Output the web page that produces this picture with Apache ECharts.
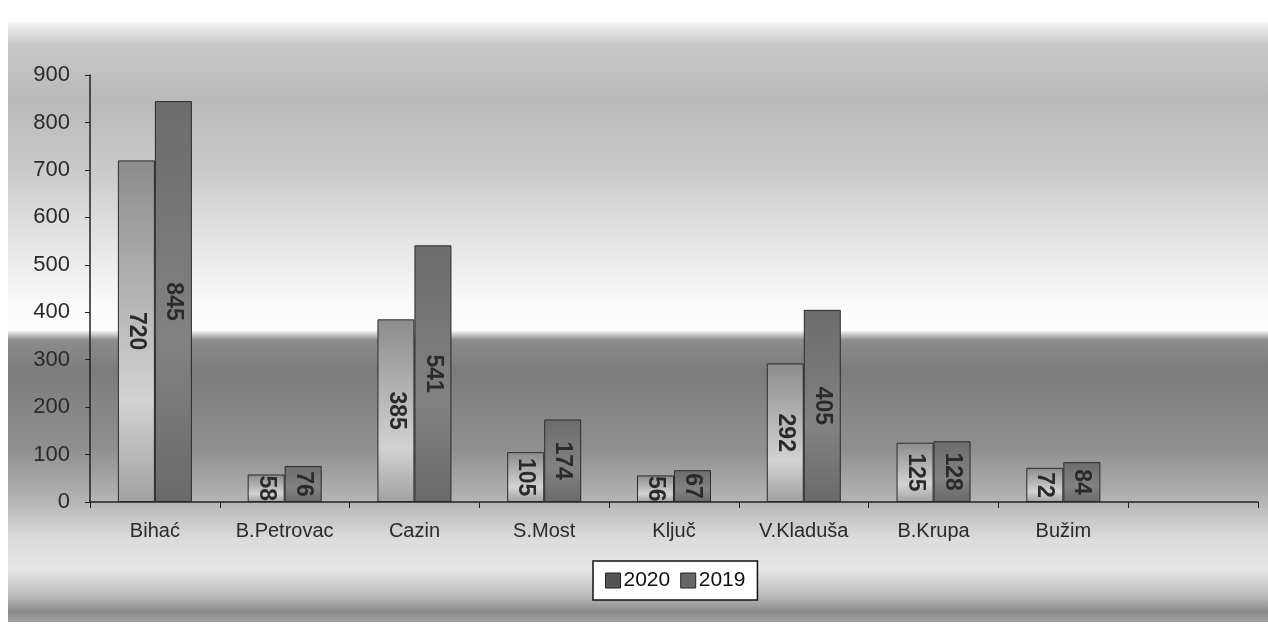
<!DOCTYPE html>
<html>
<head>
<meta charset="utf-8">
<script src="https://cdn.jsdelivr.net/npm/echarts@6/dist/echarts.min.js"></script>
<style>html,body{margin:0;padding:0;background:#fff}#c{width:1268px;height:627px}</style>
</head>
<body>
<div id="c"></div>
<script>
var categories = ['Bihać', 'B.Petrovac', 'Cazin', 'S.Most', 'Ključ', 'V.Kladuša', 'B.Krupa', 'Bužim', ''];
var values2020 = [720, 58, 385, 105, 56, 292, 125, 72, null];
var values2019 = [845, 76, 541, 174, 67, 405, 128, 84, null];
var yTicks = { min: 0, max: 900, interval: 100 };

var chart = echarts.init(document.getElementById('c'));
var G = echarts.graphic.LinearGradient;
var labelCfg = {
  show: true, position: 'inside', rotate: -90,
  fontFamily: 'Liberation Sans, Arial, sans-serif', fontSize: 23, fontWeight: 'bold', color: '#2a2a2a'
};
chart.setOption({
  animation: false,
  graphic: [{
    type: 'rect', z: -10, silent: true,
    shape: { x: 8, y: 22, width: 1260, height: 600 },
    style: {
      fill: new G(0, 0, 0, 1, [
        { offset: 0, color: '#f5f5f5' },
        { offset: 0.038, color: '#c8c8c8' },
        { offset: 0.13, color: '#b9b9b9' },
        { offset: 0.247, color: '#cacaca' },
        { offset: 0.363, color: '#e4e4e4' },
        { offset: 0.463, color: '#f8f8f8' },
        { offset: 0.513, color: '#ffffff' },
        { offset: 0.53, color: '#8c8c8c' },
        { offset: 0.58, color: '#7c7c7c' },
        { offset: 0.713, color: '#909090' },
        { offset: 0.797, color: '#b4b4b4' },
        { offset: 0.863, color: '#dcdcdc' },
        { offset: 0.913, color: '#e6e6e6' },
        { offset: 0.955, color: '#bdbdbd' },
        { offset: 0.983, color: '#8a8a8a' },
        { offset: 1, color: '#a0a0a0' }
      ])
    }
  }],
  grid: { left: 90, right: 10, top: 75, bottom: 125 },
  legend: {
    bottom: 27, left: 593,
    backgroundColor: '#fff', borderColor: '#111', borderWidth: 1.5, borderRadius: 0,
    padding: [9, 12], itemWidth: 15, itemHeight: 15, itemGap: 10,
    textStyle: { fontFamily: 'Liberation Sans, Arial, sans-serif', fontSize: 21, color: '#111', padding: [0, 0, 0, -2] },
    data: [
      { name: '2020', icon: 'rect', itemStyle: { color: '#555', borderColor: '#222', borderWidth: 1 } },
      { name: '2019', icon: 'rect', itemStyle: { color: '#666', borderColor: '#222', borderWidth: 1 } }
    ]
  },
  xAxis: {
    type: 'category', data: categories,
    axisLine: { lineStyle: { color: '#222', width: 1.5 } },
    axisTick: { show: true, interval: 0, length: 6, lineStyle: { color: '#222' } },
    axisLabel: { interval: 0, margin: 19, fontFamily: 'Liberation Sans, Arial, sans-serif', fontSize: 20, color: '#2a2a2a' }
  },
  yAxis: {
    type: 'value', min: yTicks.min, max: yTicks.max, interval: yTicks.interval,
    axisLine: { show: true, lineStyle: { color: '#222', width: 1.5 } },
    axisTick: { show: true, length: 5, lineStyle: { color: '#222' } },
    splitLine: { show: false },
    axisLabel: { margin: 20, fontFamily: 'Liberation Sans, Arial, sans-serif', fontSize: 22, color: '#2a2a2a' }
  },
  series: [
    {
      name: '2020', type: 'bar', data: values2020, barWidth: 37, barGap: '0%',
      itemStyle: {
        borderColor: '#2a2a2a', borderWidth: 1,
        color: new G(0, 0, 0, 1, [
          { offset: 0, color: '#8c8c8c' },
          { offset: 0.7, color: '#d2d2d2' },
          { offset: 1, color: '#a2a2a2' }
        ])
      },
      label: labelCfg
    },
    {
      name: '2019', type: 'bar', data: values2019, barWidth: 37,
      itemStyle: {
        borderColor: '#2a2a2a', borderWidth: 1,
        color: new G(0, 0, 0, 1, [
          { offset: 0, color: '#6c6c6c' },
          { offset: 0.6, color: '#828282' },
          { offset: 1, color: '#6a6a6a' }
        ])
      },
      label: labelCfg
    }
  ]
});
</script>
</body>
</html>
